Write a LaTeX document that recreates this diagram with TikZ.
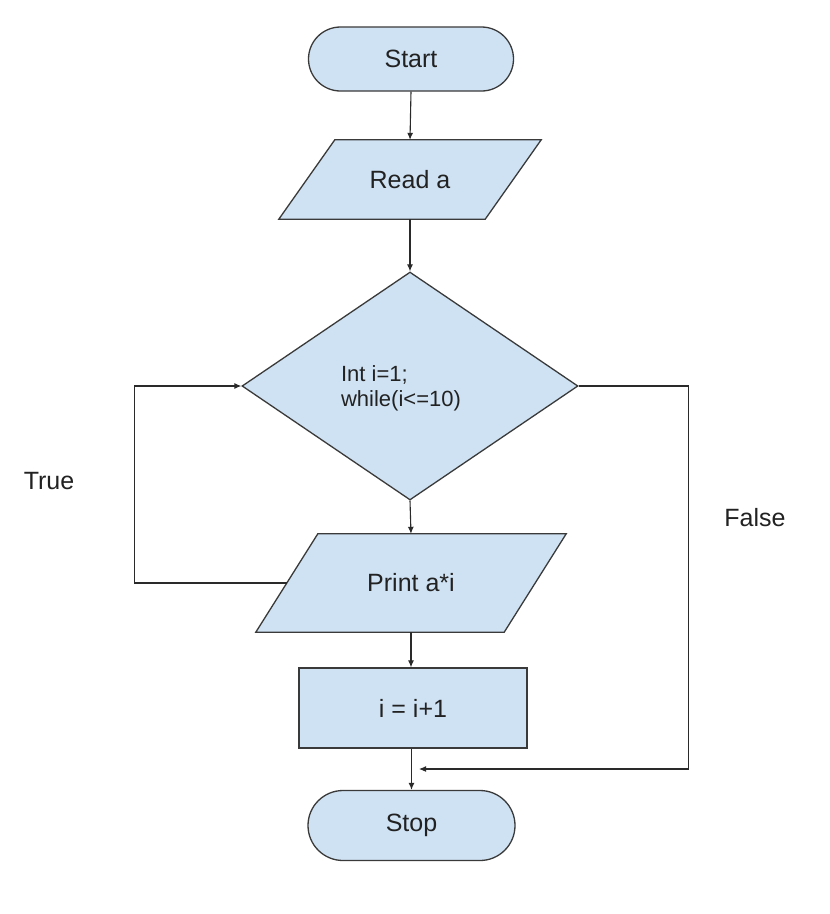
\documentclass[tikz,border=0pt]{standalone}
\usepackage{fontspec}
\setmainfont{Liberation Sans}
\usetikzlibrary{shapes.geometric,shapes.misc,arrows.meta,backgrounds,calc}
\definecolor{boxfill}{HTML}{CFE2F3}
\definecolor{linec}{HTML}{3A3A3A}
\definecolor{connc}{HTML}{2A2A2A}
\definecolor{txt}{HTML}{222222}
\begin{document}
\begin{tikzpicture}[x=1pt,y=-1pt,
  shapeline/.style={draw=linec, line width=1.3pt, fill=boxfill},
  lbl/.style={text=txt, font=\fontsize{25}{30}\selectfont, inner sep=0pt},
  term/.style={shapeline, lbl, rounded rectangle, minimum width=205pt, minimum height=64pt},
  procbox/.style={shapeline, lbl, rectangle, minimum width=228pt, minimum height=80pt},
  decision/.style={shapeline, diamond, minimum width=336pt, minimum height=228pt, inner sep=0pt},
  iobox/.style={lbl, rectangle, minimum height=#1},
  conn/.style={draw=connc, line width=1.1pt, -{Latex[length=7pt,width=6pt]}},
  side/.style={text=txt, font=\fontsize{25}{30}\selectfont, inner sep=0pt},
]
\begin{pgfonlayer}{background}
  \fill[white] (0,0) rectangle (830,914);
\end{pgfonlayer}
\useasboundingbox (0,0) rectangle (830,914);

% nodes
\node[term] (start) at (411,59) {Start};
\node[iobox=79pt, minimum width=206pt] (read) at (410,179.5) {Read a};
\node[decision] (dec) at (410,386) {};
\node[text=txt, font=\fontsize{22}{25}\selectfont, align=left, inner sep=0pt] (dtext) at (401,388) {Int i=1;\\while(i<=10)};
\node[iobox=98pt, minimum width=248pt] (print) at (411,583) {Print a*i};
\node[procbox] (inc) at (413,708) {i = i+1};
\node[term, minimum width=207pt, minimum height=70pt] (stop) at (411.5,825.5) {Stop};
\node[side] (true) at (49,481) {True};
\node[side] (false) at (755,518) {False};
\coordinate (fend) at (419,769);

% parallelogram outlines behind the text
\begin{pgfonlayer}{background}
  \draw[shapeline] ([xshift=28pt]read.north west) -- ([xshift=28pt]read.north east)
     -- ([xshift=-28pt]read.south east) -- ([xshift=-28pt]read.south west) -- cycle;
  \draw[shapeline] ([xshift=31pt]print.north west) -- ([xshift=31pt]print.north east)
     -- ([xshift=-31pt]print.south east) -- ([xshift=-31pt]print.south west) -- cycle;
\end{pgfonlayer}

% connectors
\draw[conn] (start.south) -- (read.north);
\draw[conn] (read.south) -- (dec.north);
\draw[conn] (dec.south) -- (print.north);
\draw[conn] (print.south) -- (inc.north -| print.south);
\draw[conn] (inc.south -| stop.north) -- (stop.north);
\draw[conn] (print.west) -- ++(-152,0) |- (dec.west);
\draw[conn] (dec.east) -- ++(110,0) |- (fend);
\end{tikzpicture}
\end{document}
